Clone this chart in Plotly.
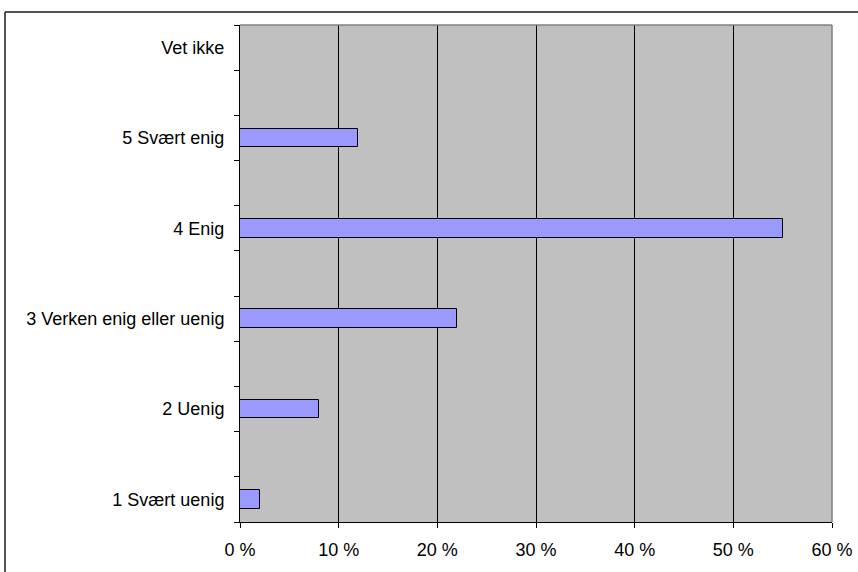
import plotly.graph_objects as go

# Survey answers (bottom to top) and share of respondents in percent
categories = ["1 Svært uenig", "2 Uenig", "3 Verken enig eller uenig",
              "4 Enig", "5 Svært enig", "Vet ikke"]
shares = [2, 8, 22, 55, 12, 0]
x_ticks = [0, 10, 20, 30, 40, 50, 60]

W, H = 858, 572
ML, MR, MT, MB = 240, 26, 25, 50

# Each answer sits on every second slot, leaving an empty slot between answers
positions = [2 * i for i in range(len(categories))]
n_slots = 2 * len(categories) - 1

fig = go.Figure(go.Bar(
    x=shares,
    y=positions,
    orientation="h",
    width=0.41,
    marker=dict(color="#9999FF", line=dict(color="#000000", width=1)),
    hoverinfo="skip",
))

font = dict(family="Liberation Sans, Arial, sans-serif", size=18, color="#000000")

fig.update_layout(
    width=W, height=H,
    margin=dict(l=ML, r=MR, t=MT, b=MB, autoexpand=False),
    paper_bgcolor="#FFFFFF",
    plot_bgcolor="#C0C0C0",
    font=font,
    showlegend=False,
    bargap=0,
)

fig.update_xaxes(
    range=[0, 60],
    tickvals=x_ticks,
    ticktext=[f"{v} %" for v in x_ticks],
    showgrid=True, gridcolor="#000000", gridwidth=1,
    showline=True, linecolor="#000000", linewidth=1,
    ticks="outside", ticklen=5, tickcolor="#000000",
    zeroline=False,
    ticklabelstandoff=6,
    automargin=False,
    fixedrange=True,
)

fig.update_yaxes(
    range=[-0.5, n_slots - 0.5],
    tickvals=positions,
    ticktext=categories,
    ticks="", showgrid=False, zeroline=False,
    showline=True, linecolor="#000000", linewidth=1,
    ticklabelstandoff=11,
    minor=dict(tickvals=[k - 0.5 for k in range(n_slots + 1)],
               ticks="outside", ticklen=5, tickcolor="#000000", showgrid=False),
    automargin=False,
    fixedrange=True,
)

# Grey frame on the top and right edges of the plot area
fig.add_shape(type="line", xref="paper", yref="paper", x0=0, x1=1, y0=1, y1=1,
              line=dict(color="#808080", width=1.5))
fig.add_shape(type="line", xref="paper", yref="paper", x0=1, x1=1, y0=0, y1=1,
              line=dict(color="#808080", width=1.5))

# Outer chart border (left and top edges)
pw, ph = W - ML - MR, H - MT - MB
bx = (5 - ML) / pw
by = 1 + (MT - 12) / ph
fig.add_shape(type="line", xref="paper", yref="paper", x0=bx, x1=(W - ML) / pw + 0.01,
              y0=by, y1=by, line=dict(color="#1a1a1a", width=1.5))
fig.add_shape(type="line", xref="paper", yref="paper", x0=bx, x1=bx,
              y0=by, y1=-MB / ph - 0.01, line=dict(color="#1a1a1a", width=1.5))

fig.write_html("out.html")
